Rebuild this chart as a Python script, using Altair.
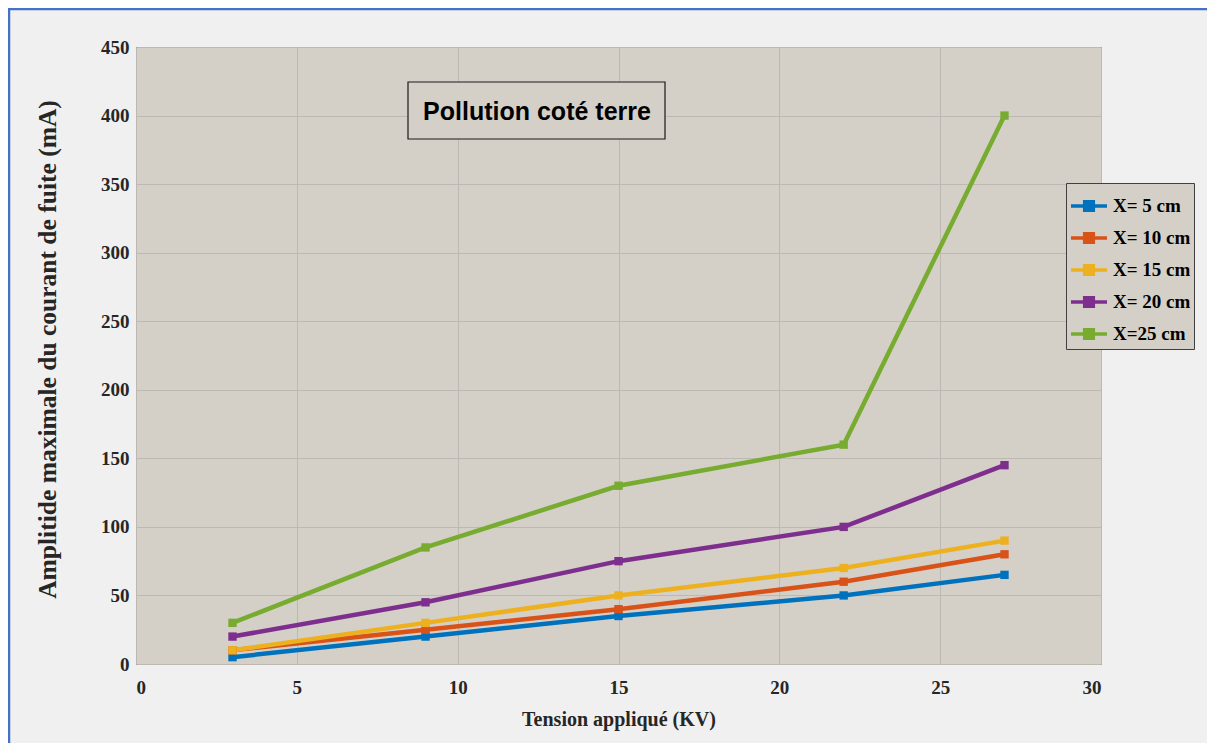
import altair as alt
import pandas as pd

voltage = [3, 9, 15, 22, 27]
series_names = ["X= 5 cm", "X= 10 cm", "X= 15 cm", "X= 20 cm", "X=25 cm"]
x5 = [5, 20, 35, 50, 65]
x10 = [10, 25, 40, 60, 80]
x15 = [10, 30, 50, 70, 90]
x20 = [20, 45, 75, 100, 145]
x25 = [30, 85, 130, 160, 400]
colors = ["#0072BD", "#D95319", "#EDB120", "#7E2F8E", "#77AC30"]

rows = []
for name, vals in zip(series_names, [x5, x10, x15, x20, x25]):
    for v, c in zip(voltage, vals):
        rows.append({"Tension": v, "Courant": c, "Serie": name})
df = pd.DataFrame(rows)

W, H = 965, 617
PL, PT = 128, 39
TOTW, TOTH = 1199, 735

serif = "Liberation Serif"
scale = alt.Scale(domain=series_names, range=colors)

xenc = alt.X("Tension:Q", scale=alt.Scale(domain=[0, 30], nice=False),
             axis=alt.Axis(values=[0, 5, 10, 15, 20, 25, 30], format="d",
                           title="Tension appliqué (KV)", labelPadding=14,
                           titlePadding=12))
yenc = alt.Y("Courant:Q", scale=alt.Scale(domain=[0, 450], nice=False),
             axis=alt.Axis(values=list(range(0, 451, 50)), format="d",
                           title="Amplitide maximale du courant de fuite (mA)",
                           labelPadding=7, titlePadding=40, titleY=302))

legend = alt.Legend(
    title=None, orient="none", legendX=930, legendY=136,
    fillColor="#d4d0c8", strokeColor="#404040", padding=3,
    symbolType="M-1,0H1M-0.24,-0.24H0.24V0.24H-0.24Z",
    symbolSize=1296, symbolStrokeWidth=3.5,
    labelFont=serif, labelFontWeight="bold", labelFontSize=19,
    labelColor="#000000", labelOffset=4, rowPadding=0,
)

lines = alt.Chart(df).mark_line(strokeWidth=4.5).encode(
    x=xenc, y=yenc,
    stroke=alt.Stroke("Serie:N", scale=scale, legend=legend, sort=series_names),
)
points = alt.Chart(df).mark_point(shape="square", filled=True, size=70, opacity=1).encode(
    x="Tension:Q", y="Courant:Q",
    fill=alt.Fill("Serie:N", scale=scale, legend=legend, sort=series_names),
)

one = pd.DataFrame({"a": [0]})
box = alt.Chart(one).mark_rect(fill="#d4d0c8", stroke="#1a1a1a", strokeWidth=1.2).encode(
    x=alt.value(272), x2=alt.value(529), y=alt.value(35), y2=alt.value(92))
box_text = alt.Chart(one).mark_text(
    text="Pollution coté terre", font="Liberation Sans",
    fontWeight="bold", fontSize=25, color="#000000", align="center", baseline="middle"
).encode(x=alt.value(401), y=alt.value(65))

border_left = alt.Chart(one).mark_rule(color="#4472C4", strokeWidth=2.5).encode(
    x=alt.value(-127), y=alt.value(-38), y2=alt.value(TOTH - PT))
border_top = alt.Chart(one).mark_rule(color="#4472C4", strokeWidth=2.5).encode(
    x=alt.value(-128), x2=alt.value(TOTW - PL), y=alt.value(-38))

chart = alt.layer(lines, points, box, box_text, border_left, border_top).properties(
    width=W, height=H,
    autosize=alt.AutoSizeParams(type="none"),
    padding={"left": PL, "top": PT, "right": TOTW - PL - W, "bottom": TOTH - PT - H},
    background="#f0f0f0",
).configure_view(
    fill="#d4d0c8", stroke="#404040", strokeWidth=1
).configure_axis(
    labelFont=serif, labelFontWeight="bold", labelFontSize=19, labelColor="#262626",
    titleFont=serif, titleFontWeight="bold", titleColor="#262626",
    grid=True, gridColor="#bdb9b2", gridWidth=1, ticks=False, domain=False,
).configure_axisX(titleFontSize=20).configure_axisY(titleFontSize=25.5)

chart.save("out.html", embed_options={"renderer": "svg", "actions": False})
